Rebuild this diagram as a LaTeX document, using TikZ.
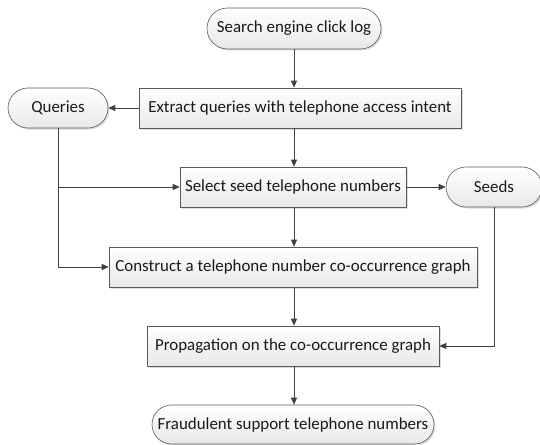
\documentclass[tikz,border=0pt]{standalone}
\usepackage{fontspec}
\setmainfont{Carlito}
\usetikzlibrary{shapes.misc,shadows,arrows.meta,positioning}
\definecolor{edge}{HTML}{404040}
\definecolor{frame}{HTML}{5A5A5A}
\tikzset{
  x=1pt,y=-1pt,
  every node/.style={font=\fontsize{16.9}{20}\selectfont, text=black!90},
  procbox/.style={rectangle, draw=frame, line width=0.6pt,
    top color=white, bottom color=black!9,
    drop shadow={shadow xshift=1.5pt, shadow yshift=-1.5pt, fill=black!30, opacity=0.45},
    minimum height=40pt, inner sep=0pt},
  termbox/.style={rounded rectangle, draw=frame, line width=0.6pt,
    top color=white, bottom color=black!9,
    drop shadow={shadow xshift=1.5pt, shadow yshift=-1.5pt, fill=black!30, opacity=0.45},
    minimum height=40pt, inner sep=0pt},
  flow/.style={draw=edge, line width=0.8pt, -{Triangle[length=7pt,width=6pt]}},
}
\begin{document}
\begin{tikzpicture}
\useasboundingbox (0,0) rectangle (540,444);
\node[termbox, minimum width=174pt, minimum height=41pt] (log) at (294,28.5) {Search engine click log};
\node[procbox, minimum width=322pt] (extract) at (300,108) {Extract queries with telephone access intent};
\node[termbox, minimum width=100pt] (queries) at (58,108) {Queries};
\node[procbox, minimum width=226pt] (select) at (293,187) {Select seed telephone numbers};
\node[termbox, minimum width=96pt] (seeds) at (494,187) {Seeds};
\node[procbox, minimum width=368pt] (construct) at (293,267) {Construct a telephone number co-occurrence graph};
\node[procbox, minimum width=292pt] (prop) at (293,346) {Propagation on the co-occurrence graph};
\node[termbox, minimum width=282pt, minimum height=39pt] (fraud) at (293,424.5) {Fraudulent support telephone numbers};

\coordinate (qdown) at (58,187);
\coordinate (qbottom) at (58,267);

\draw[flow] (log.south) -- (log.south |- extract.north);
\draw[flow] (extract.west) -- (queries.east);
\draw[flow] (log.south |- extract.south) -- (log.south |- select.north);
\draw[flow] (queries.south) -- (qdown) -- (select.west);
\draw[flow] (qdown) -- (qbottom) -- (construct.west);
\draw[flow] (select.east) -- (seeds.west);
\draw[flow] (log.south |- select.south) -- (log.south |- construct.north);
\draw[flow] (log.south |- construct.south) -- (log.south |- prop.north);
\draw[flow] (seeds.south) -- (seeds.south |- prop.east) -- (prop.east);
\draw[flow] (log.south |- prop.south) -- (log.south |- fraud.north);
\end{tikzpicture}
\end{document}
